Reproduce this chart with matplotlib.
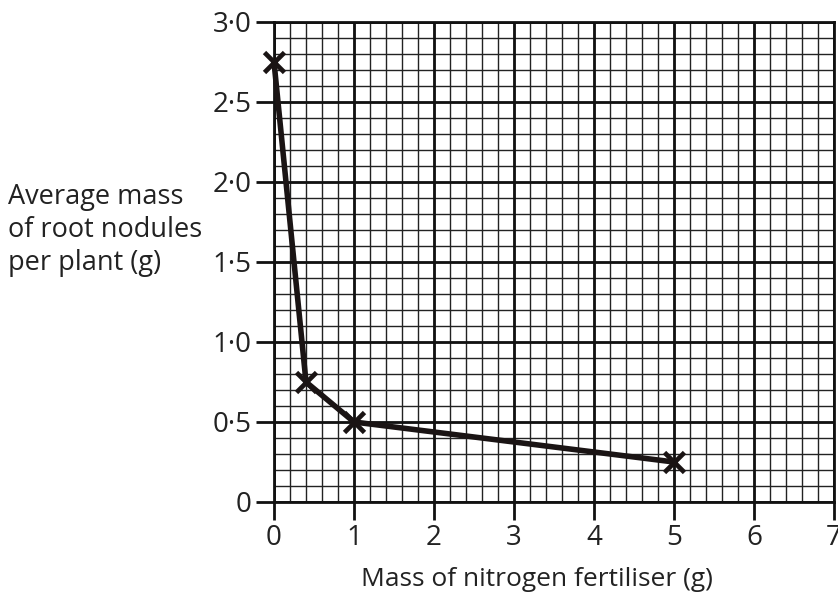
import matplotlib.pyplot as plt
import numpy as np

# fertiliser mass (g) against nodule mass (g)
fert = [0, 0.4, 1, 5]
nodules = [2.75, 0.75, 0.5, 0.25]

x_ticks = [0, 1, 2, 3, 4, 5, 6, 7]
y_ticks = [0, 0.5, 1.0, 1.5, 2.0, 2.5, 3.0]
y_tick_labels = ['0', '0·5', '1·0', '1·5', '2·0', '2·5', '3·0']

plt.rcParams['font.family'] = ['Open Sans', 'DejaVu Sans']

fig = plt.figure(figsize=(8.38, 5.98), dpi=100)
ax = fig.add_axes([274 / 838, 96 / 598, 560 / 838, 480 / 598])

ax.set_xlim(0, 7)
ax.set_ylim(0, 3)

# graph paper: fine lines then heavier lines on the whole units
for xv in np.arange(0, 7.01, 0.2):
    ax.axvline(xv, color='#222222', lw=1.0, zorder=1)
for yv in np.arange(0, 3.01, 0.1):
    ax.axhline(yv, color='#222222', lw=1.0, zorder=1)
for xv in x_ticks:
    ax.axvline(xv, color='#111111', lw=2.0, zorder=1.5)
for yv in y_ticks:
    ax.axhline(yv, color='#111111', lw=2.0, zorder=1.5)

for s in ax.spines.values():
    s.set_linewidth(2.0)
    s.set_color('#111111')

ax.plot(fert, nodules, color='#1a1414', lw=4, solid_joinstyle='miter',
        marker='x', markersize=14, markeredgewidth=3.4, zorder=5, clip_on=False)

ax.set_xticks(x_ticks)
ax.set_xticklabels([str(v) for v in x_ticks])
ax.set_yticks(y_ticks)
ax.set_yticklabels(y_tick_labels)
ax.tick_params(length=13, width=2, color='#111111', labelsize=20, pad=3, labelcolor='#222222')

fig.text(8 / 838, 1 - 230 / 598, 'Average mass\nof root nodules\nper plant (g)',
         fontsize=19.5, color='#222222', ha='left', va='center', linespacing=1.25)
fig.text(537 / 838, 1 - 580 / 598, 'Mass of nitrogen fertiliser (g)',
         fontsize=19, color='#222222', ha='center', va='center')

plt.savefig('out.png', dpi=100)
